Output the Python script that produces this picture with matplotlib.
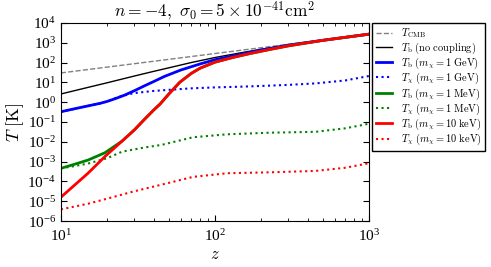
import numpy as np
import matplotlib.pyplot as plt

plt.rcParams['mathtext.fontset'] = 'cm'
plt.rcParams['font.family'] = 'serif'
plt.rcParams['font.serif'] = ['Liberation Serif', 'DejaVu Serif']

# redshift grids and temperatures
z_cmb = [10, 1000]
T_cmb = [30.0, 2728.0]

z_nc = [10, 15, 20, 30, 40, 50, 70, 100, 150, 200, 300, 500, 1000]
T_nc = [2.6, 5.6, 9.6, 21, 36, 54, 100, 180, 320, 470, 780, 1340, 2725]

z_b1 = [10, 12, 15, 18, 20, 23, 26, 30, 35, 40, 47, 60, 80, 100, 130, 170, 200, 300, 500, 1000]
T_b1 = [0.33, 0.45, 0.65, 0.88, 1.1, 1.6, 2.3, 3.8, 6.8, 11, 20, 42, 85, 140, 215, 330, 430, 760, 1330, 2720]

z_x1 = [10, 15, 18, 20, 22, 25, 30, 40, 50, 70, 100, 150, 200, 300, 450, 700, 1000]
T_x1 = [0.33, 0.65, 0.88, 1.1, 1.5, 2.1, 2.9, 3.7, 4.2, 5.0, 5.6, 6.1, 6.6, 7.5, 8.9, 12.5, 21]

z_b2 = [10, 12, 15, 19.3, 25, 30, 35, 40, 44, 50, 59, 70, 80, 100, 130, 170, 230, 300, 500, 1000]
T_b2 = [4.6e-4, 7e-4, 1.2e-3, 2.8e-3, 1.1e-2, 0.04, 0.14, 0.4, 0.8, 2.5, 10, 28, 52, 105, 180, 290, 470, 700, 1320, 2720]

z_x2 = [10, 12, 15, 20, 25, 35, 45, 72, 120, 230, 450, 700, 1000]
T_x2 = [4.6e-4, 5.8e-4, 8e-4, 1.5e-3, 3.2e-3, 5.2e-3, 7e-3, 0.017, 0.024, 0.029, 0.032, 0.048, 0.082]

z_b3 = [10, 15, 19.3, 25, 30, 35, 40, 44, 50, 59, 70, 80, 100, 130, 170, 230, 300, 500, 1000]
T_b3 = [1.6e-5, 2.6e-4, 1.8e-3, 1.1e-2, 0.04, 0.14, 0.4, 0.8, 2.5, 10, 28, 52, 105, 180, 290, 470, 700, 1320, 2720]

z_x3 = [10, 15, 19.3, 30, 44, 72, 120, 230, 450, 700, 1000]
T_x3 = [3.9e-6, 7.5e-6, 1.26e-5, 3.2e-5, 6.6e-5, 1.7e-4, 2.6e-4, 2.9e-4, 3.4e-4, 4.9e-4, 8.3e-4]

fig = plt.figure(figsize=(4.91, 2.67), dpi=100)
ax = fig.add_axes([0.124, 0.172, 0.6275, 0.742])

ax.plot(z_cmb, T_cmb, color='gray', ls='--', lw=1, label=r'$T_{\rm CMB}$')
ax.plot(z_nc, T_nc, color='k', lw=1, label=r'$T_{\rm b}\ ({\rm no\ coupling})$')
ax.plot(z_b1, T_b1, color='b', lw=2, label=r'$T_{\rm b}\ (m_\chi = 1\ {\rm GeV})$')
ax.plot(z_x1, T_x1, color='b', ls=':', lw=1.5, label=r'$T_\chi\ (m_\chi = 1\ {\rm GeV})$')
ax.plot(z_b2, T_b2, color='g', lw=2, label=r'$T_{\rm b}\ (m_\chi = 1\ {\rm MeV})$')
ax.plot(z_x2, T_x2, color='g', ls=':', lw=1.5, label=r'$T_\chi\ (m_\chi = 1\ {\rm MeV})$')
ax.plot(z_b3, T_b3, color='r', lw=2, label=r'$T_{\rm b}\ (m_\chi = 10\ {\rm keV})$')
ax.plot(z_x3, T_x3, color='r', ls=':', lw=1.5, label=r'$T_\chi\ (m_\chi = 10\ {\rm keV})$')

ax.set_xscale('log')
ax.set_yscale('log')
ax.set_xlim(10, 1000)
ax.set_ylim(1e-6, 1e4)
ax.set_yticks([10.0**k for k in range(-6, 5)])
ax.tick_params(which='both', direction='in', top=True, right=True, labelsize=11)
ax.tick_params(which='major', length=4)
ax.tick_params(which='minor', length=2)
ax.tick_params(axis='x', pad=5)
ax.set_xlabel(r'$z$', fontsize=12, labelpad=2)
ax.set_ylabel(r'$T\ [{\rm K}]$', fontsize=13, labelpad=1)
ax.set_title(r'$n = -4,\ \sigma_0 = 5\times10^{-41}{\rm cm}^2$', fontsize=12.5, pad=3)

leg = ax.legend(loc='upper left', bbox_to_anchor=(1.01, 1.0), fontsize=7.5,
                fancybox=False, edgecolor='k', framealpha=1, borderaxespad=0,
                handlelength=1.6, labelspacing=0.0, borderpad=0.35)
leg.get_frame().set_linewidth(1)

fig.savefig('out.png', dpi=100)
